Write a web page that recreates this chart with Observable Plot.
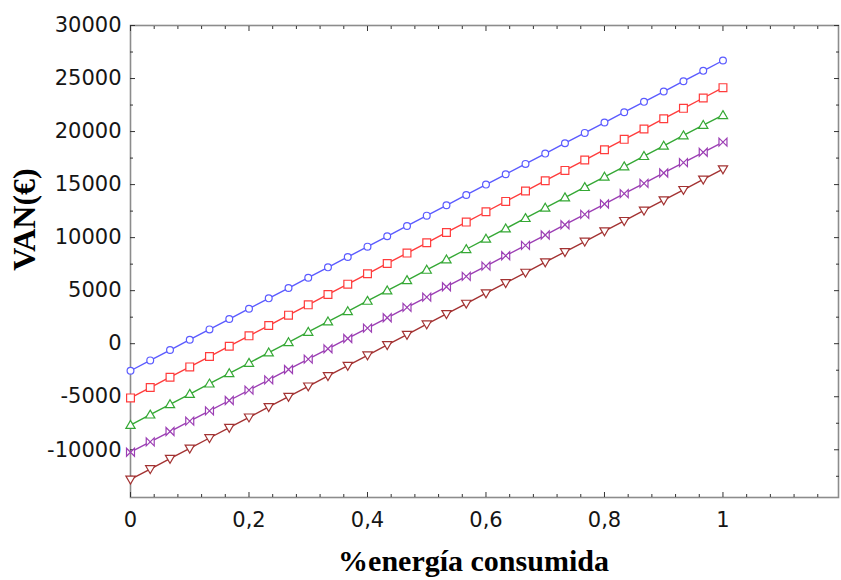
<!DOCTYPE html>
<html>
<head>
<meta charset="utf-8">
<script src="https://cdn.jsdelivr.net/npm/d3@7"></script>
<script src="https://cdn.jsdelivr.net/npm/@observablehq/plot@0.6"></script>
<style>
  html, body { margin: 0; padding: 0; background: #fff; }
  #chart svg { display: block; }
</style>
</head>
<body>
<div id="chart"></div>
<script>
// ---- data ----
const xs = [0, 0.0333, 0.0667, 0.1, 0.1333, 0.1667, 0.2, 0.2333, 0.2667, 0.3, 0.3333, 0.3667, 0.4, 0.4333, 0.4667, 0.5,
  0.5333, 0.5667, 0.6, 0.6333, 0.6667, 0.7, 0.7333, 0.7667, 0.8, 0.8333, 0.8667, 0.9, 0.9333, 0.9667, 1];

const serie1 = [-2550, -1575, -600, 375, 1350, 2325, 3300, 4275, 5250, 6225, 7200, 8175, 9150, 10125, 11100, 12075,
  13050, 14025, 15000, 15975, 16950, 17925, 18900, 19875, 20850, 21825, 22800, 23775, 24750, 25725, 26700];
const serie2 = [-5110, -4135, -3160, -2185, -1210, -235, 740, 1715, 2690, 3665, 4640, 5615, 6590, 7565, 8540, 9515,
  10490, 11465, 12440, 13415, 14390, 15365, 16340, 17315, 18290, 19265, 20240, 21215, 22190, 23165, 24140];
const serie3 = [-7670, -6695, -5720, -4745, -3770, -2795, -1820, -845, 130, 1105, 2080, 3055, 4030, 5005, 5980, 6955,
  7930, 8905, 9880, 10855, 11830, 12805, 13780, 14755, 15730, 16705, 17680, 18655, 19630, 20605, 21540];
const serie4 = [-10230, -9255, -8280, -7305, -6330, -5355, -4380, -3405, -2430, -1455, -480, 495, 1470, 2445, 3420, 4395,
  5370, 6345, 7320, 8295, 9270, 10245, 11220, 12195, 13170, 14145, 15120, 16095, 17070, 18045, 19000];
const serie5 = [-12790, -11815, -10840, -9865, -8890, -7915, -6940, -5965, -4990, -4015, -3040, -2065, -1090, -115, 860, 1835,
  2810, 3785, 4760, 5735, 6710, 7685, 8660, 9635, 10610, 11585, 12560, 13535, 14510, 15485, 16460];

const xMajorTicks = [0, 0.2, 0.4, 0.6, 0.8, 1];
const xMinorTicks = [0.04, 0.08, 0.12, 0.16, 0.24, 0.28, 0.32, 0.36, 0.44, 0.48, 0.52, 0.56, 0.64, 0.68, 0.72, 0.76,
  0.84, 0.88, 0.92, 0.96, 1.04, 1.08, 1.12, 1.16];
const yMajorTicks = [-10000, -5000, 0, 5000, 10000, 15000, 20000, 25000, 30000];
const yMinorTicks = [-12500, -7500, -2500, 2500, 7500, 12500, 17500, 22500, 27500];

const xLabel = "%energía consumida";
const yLabel = "VAN(€)";

// ---- build ----
const seriesList = [serie1, serie2, serie3, serie4, serie5];
const colors = ["#5b5bff", "#ff3c3c", "#35a835", "#9c3fb4", "#a33232"];

const triangleDown = {
  draw(ctx, size) {
    const r = Math.sqrt(size / Math.PI);
    ctx.moveTo(-r * 1.05, -r * 0.75);
    ctx.lineTo(r * 1.05, -r * 0.75);
    ctx.lineTo(0, r * 1.05);
    ctx.closePath();
  }
};
const bowtie = {
  draw(ctx, size) {
    const r = Math.sqrt(size / Math.PI) * 0.95;
    ctx.moveTo(-r, -r);
    ctx.lineTo(r, r);
    ctx.lineTo(r, -r);
    ctx.lineTo(-r, r);
    ctx.closePath();
  }
};
const triangleUp = {
  draw(ctx, size) {
    const r = Math.sqrt(size / Math.PI);
    ctx.moveTo(0, -r * 1.05);
    ctx.lineTo(r * 1.05, r * 0.75);
    ctx.lineTo(-r * 1.05, r * 0.75);
    ctx.closePath();
  }
};
const symbols = ["circle", "square", triangleUp, bowtie, triangleDown];
const radii = [3.4, 4.4, 4.4, 4.2, 4.4];

const rows = seriesList.map(s => s.map((v, i) => ({x: xs[i], y: v})));

const fmtX = d => String(d).replace(".", ",");
const fmtY = d => String(d);
const blank = () => "";

const marks = [
  Plot.frame({stroke: "#8c8c8c", strokeWidth: 1.6}),
  // inward ticks on all four sides
  Plot.axisX({anchor: "bottom", ticks: xMajorTicks, tickSize: -5, tickFormat: blank, label: null, stroke: "#333"}),
  Plot.axisX({anchor: "bottom", ticks: xMinorTicks, tickSize: -3, tickFormat: blank, label: null, stroke: "#333"}),
  Plot.axisX({anchor: "top", ticks: xMajorTicks, tickSize: -5, tickFormat: blank, label: null, stroke: "#333"}),
  Plot.axisX({anchor: "top", ticks: xMinorTicks, tickSize: -3, tickFormat: blank, label: null, stroke: "#333"}),
  Plot.axisY({anchor: "left", ticks: yMajorTicks, tickSize: -5, tickFormat: blank, label: null, stroke: "#333"}),
  Plot.axisY({anchor: "left", ticks: yMinorTicks, tickSize: -3, tickFormat: blank, label: null, stroke: "#333"}),
  Plot.axisY({anchor: "right", ticks: yMajorTicks, tickSize: -5, tickFormat: blank, label: null, stroke: "#333"}),
  Plot.axisY({anchor: "right", ticks: yMinorTicks, tickSize: -3, tickFormat: blank, label: null, stroke: "#333"}),
  // tick labels
  Plot.axisX({anchor: "bottom", ticks: xMajorTicks, tickSize: 0, tickPadding: 15, tickFormat: fmtX, label: null,
    fill: "#151515", fontSize: 21}),
  Plot.axisY({anchor: "left", ticks: yMajorTicks, tickSize: 0, tickPadding: 9, tickFormat: fmtY, label: null,
    fill: "#151515", fontSize: 21}),
];

rows.forEach((data, k) => {
  marks.push(Plot.line(data, {x: "x", y: "y", stroke: colors[k], strokeWidth: 1.4}));
  marks.push(Plot.dot(data, {x: "x", y: "y", stroke: colors[k], fill: "white", symbol: symbols[k], r: radii[k], strokeWidth: 1.2}));
});

marks.push(Plot.text([xLabel], {frameAnchor: "bottom", text: d => d, textAnchor: "middle", lineAnchor: "middle",
  dx: -11, dy: 64, fontFamily: "Liberation Serif", fontWeight: "bold", fontSize: 30, fill: "#000"}));
marks.push(Plot.text([yLabel], {frameAnchor: "left", text: d => d, textAnchor: "middle", lineAnchor: "middle",
  dx: -106, dy: -42, rotate: -90, fontFamily: "Liberation Serif", fontWeight: "bold", fontSize: 32, fill: "#000"}));

const chart = Plot.plot({
  width: 841,
  height: 580,
  marginLeft: 130,
  marginRight: 3,
  marginTop: 25,
  marginBottom: 83,
  style: {fontFamily: "DejaVu Sans", fontSize: "21px", background: "#fff", color: "#151515"},
  x: {domain: [0, 1.195], axis: null},
  y: {domain: [-14500, 30000], axis: null},
  marks
});
document.getElementById("chart").appendChild(chart);
</script>
</body>
</html>
